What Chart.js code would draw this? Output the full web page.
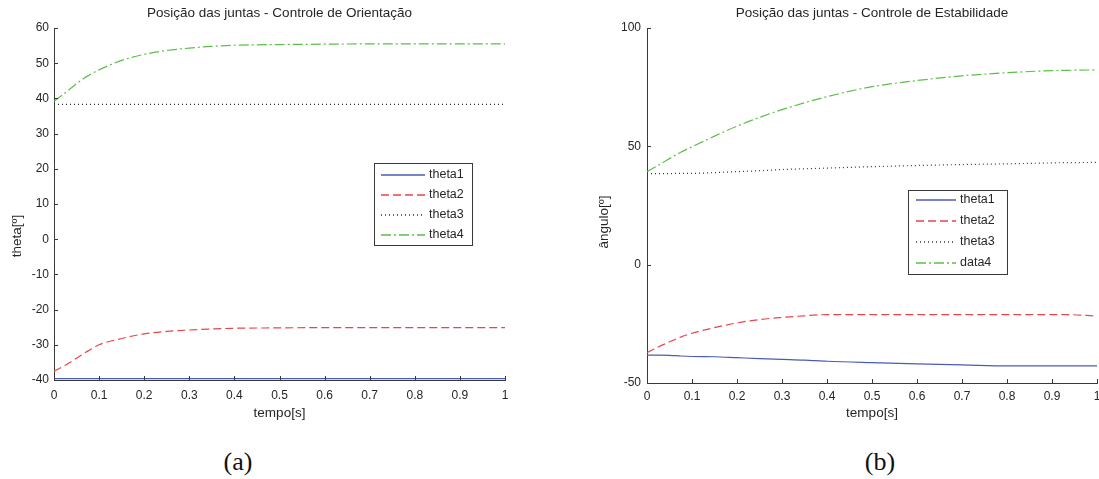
<!DOCTYPE html>
<html>
<head>
<meta charset="utf-8">
<script src="https://cdn.jsdelivr.net/npm/chart.js@4.4.1/dist/chart.umd.min.js"></script>
<style>
  html, body { margin: 0; padding: 0; background: #fff; }
  body { width: 1099px; height: 479px; position: relative; overflow: hidden; }
  canvas { position: absolute; top: 0; }
  #chartA { left: 0; }
  #chartB { left: 590px; }
  .caption {
    position: absolute; top: 448px; width: 60px; text-align: center;
    font-family: 'Liberation Serif', serif; font-size: 26px; line-height: 28px; color: #111;
  }
</style>
</head>
<body>
<canvas id="chartA" width="559" height="425"></canvas>
<canvas id="chartB" width="517" height="425"></canvas>
<div class="caption" style="left:208px">(a)</div>
<div class="caption" style="left:850px">(b)</div>
<script>
// time samples (s)
const tempo = [0, 0.025, 0.05, 0.075, 0.1, 0.15, 0.2, 0.25, 0.3, 0.35, 0.4, 0.5, 0.6, 0.7, 0.8, 0.9, 0.93, 1];

// (a) Controle de Orientação
const theta1A = [-39.6, -39.6, -39.6, -39.6, -39.6, -39.6, -39.6, -39.6, -39.6, -39.6, -39.6, -39.6, -39.6, -39.6, -39.6, -39.6, -39.6, -39.6];
const theta2A = [-37.5, -35.8, -33.8, -31.8, -30.0, -28.2, -26.9, -26.2, -25.8, -25.5, -25.3, -25.2, -25.1, -25.1, -25.1, -25.1, -25.1, -25.1];
const theta3A = [38.3, 38.3, 38.3, 38.3, 38.3, 38.3, 38.3, 38.3, 38.3, 38.3, 38.3, 38.3, 38.3, 38.3, 38.3, 38.3, 38.3, 38.3];
const theta4A = [39.2, 41.6, 44.2, 46.4, 48.1, 50.8, 52.5, 53.6, 54.3, 54.8, 55.1, 55.3, 55.4, 55.5, 55.5, 55.5, 55.5, 55.5];

// (b) Controle de Estabilidade
const theta1B = [-38.2, -38.2, -38.3, -38.6, -38.8, -38.9, -39.3, -39.7, -40.0, -40.3, -40.8, -41.4, -41.9, -42.3, -42.8, -42.8, -42.8, -42.8];
const theta2B = [-37.2, -34.8, -32.6, -30.6, -29.0, -26.6, -24.6, -23.2, -22.3, -21.6, -21.1, -21.1, -21.1, -21.1, -21.1, -21.1, -21.1, -21.7];
const theta3B = [38.5, 38.5, 38.5, 38.6, 38.6, 38.9, 39.3, 39.7, 40.2, 40.5, 40.8, 41.4, 41.9, 42.3, 42.6, 43.0, 43.1, 43.2];
const data4B = [39.3, 42.0, 44.8, 47.5, 49.8, 54.3, 58.5, 62.2, 65.5, 68.4, 71.0, 75.2, 77.8, 79.8, 81.1, 82.0, 82.1, 82.3];

// ticks
const xTickValues = [0, 0.1, 0.2, 0.3, 0.4, 0.5, 0.6, 0.7, 0.8, 0.9, 1];
const xTickLabels = ['0', '0.1', '0.2', '0.3', '0.4', '0.5', '0.6', '0.7', '0.8', '0.9', '1'];
const yTicksA = [-40, -30, -20, -10, 0, 10, 20, 30, 40, 50, 60];
const yTicksB = [-50, 0, 50, 100];

const FONT = "'Liberation Sans', Arial, sans-serif";
const TEXT = '#262626';
const AXIS = '#3a3a3a';

const styles = [
    { color: '#4a5cb4', dash: [] },
    { color: '#e8464a', dash: [8, 4] },
    { color: '#333333', dash: [1, 3] },
    { color: '#5cbf4a', dash: [10, 3, 2, 3] }
];

function makeDatasets(labels, series) {
    return series.map((vals, i) => ({
        label: labels[i],
        data: vals.map((v, j) => ({ x: tempo[j], y: v })),
        borderColor: styles[i].color,
        borderDash: styles[i].dash,
        borderWidth: 1.2,
        pointRadius: 0,
        cubicInterpolationMode: 'monotone',
        fill: false
    }));
}

// inward ticks, centred title, y label and boxed legend, matlab style
const matlabLook = {
    id: 'matlabLook',
    afterDraw(chart, args, opts) {
        const ctx = chart.ctx;
        const area = chart.chartArea;
        const xs = chart.scales.x, ys = chart.scales.y;
        ctx.save();
        ctx.strokeStyle = AXIS;
        ctx.lineWidth = 1;
        ctx.setLineDash([]);
        ctx.beginPath();
        xs.ticks.forEach(t => {
            const px = Math.round(xs.getPixelForValue(t.value)) + 0.5;
            ctx.moveTo(px, area.bottom);
            ctx.lineTo(px, area.bottom - 4);
        });
        ys.ticks.forEach(t => {
            const py = Math.round(ys.getPixelForValue(t.value)) + 0.5;
            ctx.moveTo(area.left, py);
            ctx.lineTo(area.left + 4, py);
        });
        ctx.stroke();

        // title
        ctx.fillStyle = TEXT;
        ctx.font = '13.5px ' + FONT;
        ctx.textAlign = 'center';
        ctx.textBaseline = 'middle';
        ctx.fillText(opts.title, (area.left + area.right) / 2, 13);

        // y label
        ctx.save();
        ctx.translate(opts.yLabel.x, opts.yLabel.y);
        ctx.rotate(-Math.PI / 2);
        ctx.fillText(opts.yLabel.text, 0, 0);
        ctx.restore();

        // legend
        const L = opts.legend;
        ctx.fillStyle = '#fff';
        ctx.fillRect(L.x, L.y, L.w, L.h);
        ctx.strokeStyle = AXIS;
        ctx.lineWidth = 1;
        ctx.strokeRect(L.x + 0.5, L.y + 0.5, L.w, L.h);
        ctx.font = '12.5px ' + FONT;
        ctx.textAlign = 'left';
        chart.data.datasets.forEach((ds, i) => {
            const st = styles[i];
            const cy = Math.round(L.y + L.first + i * L.row);
            ctx.strokeStyle = st.color;
            ctx.setLineDash(st.dash);
            ctx.lineWidth = 1.5;
            ctx.beginPath();
            ctx.moveTo(L.x + L.s0, cy);
            ctx.lineTo(L.x + L.s1, cy);
            ctx.stroke();
            ctx.setLineDash([]);
            ctx.fillStyle = TEXT;
            ctx.fillText(ds.label, L.x + L.s1 + 4, cy);
        });
        ctx.restore();
    }
};

function makeChart(id, cfg) {
    return new Chart(document.getElementById(id), {
        type: 'line',
        data: { datasets: makeDatasets(cfg.labels, cfg.series) },
        plugins: [matlabLook],
        options: {
            responsive: false,
            animation: false,
            layout: { padding: { top: 28, right: cfg.padRight, left: 0, bottom: 0 } },
            plugins: {
                legend: { display: false },
                tooltip: { enabled: false },
                matlabLook: { title: cfg.title, legend: cfg.legend, yLabel: cfg.yLabel }
            },
            scales: {
                x: {
                    type: 'linear',
                    min: 0, max: 1,
                    afterBuildTicks: s => { s.ticks = xTickValues.map(v => ({ value: v })); },
                    afterFit: s => { s.height = cfg.xHeight; },
                    grid: { display: false, drawTicks: false },
                    border: { display: true, color: AXIS, width: 1 },
                    ticks: {
                        padding: cfg.xPad, color: TEXT, maxRotation: 0, autoSkip: false,
                        font: { family: FONT, size: 12 },
                        callback: (v, i) => xTickLabels[i]
                    },
                    title: {
                        display: true, text: 'tempo[s]', color: TEXT,
                        font: { family: FONT, size: 13.5 },
                        padding: { top: 2, bottom: 4 }
                    }
                },
                y: {
                    min: cfg.yTicks[0], max: cfg.yTicks[cfg.yTicks.length - 1],
                    afterBuildTicks: s => { s.ticks = cfg.yTicks.map(v => ({ value: v })); },
                    afterFit: s => { s.width = cfg.yWidth; },
                    grid: { display: false, drawTicks: false },
                    border: { display: true, color: AXIS, width: 1 },
                    ticks: {
                        padding: cfg.yPad, color: TEXT, autoSkip: false,
                        font: { family: FONT, size: 12 },
                        callback: v => String(v)
                    }
                }
            }
        }
    });
}

document.addEventListener('DOMContentLoaded', function() {
    makeChart('chartA', {
        title: 'Posição das juntas - Controle de Orientação',
        labels: ['theta1', 'theta2', 'theta3', 'theta4'],
        series: [theta1A, theta2A, theta3A, theta4A],
        yTicks: yTicksA,
        yLabel: { text: 'theta[º]', x: 17, y: 236 },
        yWidth: 54, yPad: 5,
        xHeight: 45, xPad: 8,
        padRight: 54,
        legend: { x: 374, y: 163, w: 98, h: 82, first: 12, row: 20, s0: 7, s1: 51 }
    });
    makeChart('chartB', {
        title: 'Posição das juntas - Controle de Estabilidade',
        labels: ['theta1', 'theta2', 'theta3', 'data4'],
        series: [theta1B, theta2B, theta3B, data4B],
        yTicks: yTicksB,
        yLabel: { text: 'ângulo[º]', x: 14, y: 222 },
        yWidth: 57, yPad: 6,
        xHeight: 42, xPad: 6,
        padRight: 10,
        legend: { x: 318, y: 190, w: 99, h: 84, first: 10, row: 20.9, s0: 8, s1: 48 }
    });
});
</script>
</body>
</html>
